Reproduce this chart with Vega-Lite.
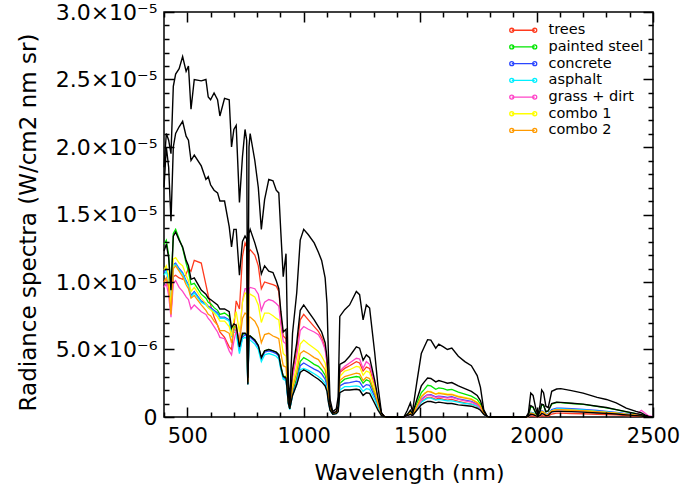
{
 "$schema": "https://vega.github.io/schema/vega-lite/v6.json",
 "width": 489, "height": 405,
 "autosize": {"type": "none"},
 "padding": {"left": 164, "top": 12, "right": 31, "bottom": 72},
 "background": "white",
 "config": {"view": {"stroke": "black", "strokeWidth": 1.5}, "font": "DejaVu Sans"},
 "data": {"values": [
{"w":400,"r1":18.5e-6,"r2":17e-6,"r3":12.3e-6,"trees":10e-6,"painted steel":12.8e-6,"concrete":10.7e-6,"asphalt":10.5e-6,"grass + dirt":9.6e-6,"combo 1":10.9e-6,"combo 2":10e-6},
{"w":410,"r1":21e-6,"r2":20e-6,"r3":12.8e-6,"trees":10.3e-6,"painted steel":13.1e-6,"concrete":11e-6,"asphalt":10.8e-6,"grass + dirt":9.9e-6,"combo 1":11.2e-6,"combo 2":10.3e-6},
{"w":420,"r1":20.5e-6,"r2":18.5e-6,"r3":11.8e-6,"trees":9.6e-6,"painted steel":12e-6,"concrete":10.3e-6,"asphalt":10.1e-6,"grass + dirt":9e-6,"combo 1":10.5e-6,"combo 2":9.6e-6},
{"w":430,"r1":19.5e-6,"r2":14.5e-6,"r3":9.4e-6,"trees":7.8e-6,"painted steel":9.4e-6,"concrete":8.2e-6,"asphalt":8.1e-6,"grass + dirt":7.4e-6,"combo 1":8e-6,"combo 2":7.6e-6},
{"w":440,"r1":24.5e-6,"r2":20e-6,"r3":13.4e-6,"trees":10.4e-6,"painted steel":13.6e-6,"concrete":11.3e-6,"asphalt":11.2e-6,"grass + dirt":9.9e-6,"combo 1":11.7e-6,"combo 2":11e-6},
{"w":450,"r1":25.4e-6,"r2":21e-6,"r3":13.7e-6,"trees":10.5e-6,"painted steel":13.9e-6,"concrete":11.4e-6,"asphalt":11.3e-6,"grass + dirt":10.1e-6,"combo 1":11.8e-6,"combo 2":11.2e-6},
{"w":465,"r1":25.8e-6,"r2":21.5e-6,"r3":13.1e-6,"trees":10.3e-6,"painted steel":13.2e-6,"concrete":11e-6,"asphalt":10.9e-6,"grass + dirt":9.6e-6,"combo 1":11.4e-6,"combo 2":10.8e-6},
{"w":480,"r1":26.7e-6,"r2":21.9e-6,"r3":12.6e-6,"trees":10.2e-6,"painted steel":12.5e-6,"concrete":10.7e-6,"asphalt":10.6e-6,"grass + dirt":9.3e-6,"combo 1":11.2e-6,"combo 2":10.4e-6},
{"w":495,"r1":25.6e-6,"r2":20.8e-6,"r3":11.6e-6,"trees":10.6e-6,"painted steel":11.4e-6,"concrete":10.1e-6,"asphalt":10e-6,"grass + dirt":8.9e-6,"combo 1":10.5e-6,"combo 2":9.8e-6},
{"w":505,"r1":26e-6,"r2":20.5e-6,"r3":11.2e-6,"trees":11e-6,"painted steel":10.8e-6,"concrete":9.8e-6,"asphalt":9.7e-6,"grass + dirt":8.7e-6,"combo 1":10.1e-6,"combo 2":9.5e-6},
{"w":516,"r1":22.8e-6,"r2":19e-6,"r3":10.2e-6,"trees":10.8e-6,"painted steel":9.8e-6,"concrete":9e-6,"asphalt":8.9e-6,"grass + dirt":8e-6,"combo 1":9.3e-6,"combo 2":8.8e-6},
{"w":530,"r1":25e-6,"r2":19.4e-6,"r3":10.3e-6,"trees":11.6e-6,"painted steel":9.9e-6,"concrete":9.3e-6,"asphalt":9.2e-6,"grass + dirt":8.3e-6,"combo 1":9.6e-6,"combo 2":9e-6},
{"w":560,"r1":24.9e-6,"r2":18.6e-6,"r3":9.4e-6,"trees":11.4e-6,"painted steel":9.1e-6,"concrete":8.6e-6,"asphalt":8.5e-6,"grass + dirt":7.8e-6,"combo 1":8.8e-6,"combo 2":8.3e-6},
{"w":580,"r1":25e-6,"r2":17.6e-6,"r3":9.1e-6,"trees":9.8e-6,"painted steel":8.8e-6,"concrete":8.4e-6,"asphalt":8.3e-6,"grass + dirt":7.6e-6,"combo 1":8.4e-6,"combo 2":7.9e-6},
{"w":590,"r1":23.7e-6,"r2":17.8e-6,"r3":8.8e-6,"trees":9e-6,"painted steel":8.5e-6,"concrete":8.2e-6,"asphalt":8.1e-6,"grass + dirt":7.3e-6,"combo 1":8.1e-6,"combo 2":7.6e-6},
{"w":600,"r1":23.5e-6,"r2":17.2e-6,"r3":8.7e-6,"trees":8.3e-6,"painted steel":8.4e-6,"concrete":8.1e-6,"asphalt":8e-6,"grass + dirt":7.1e-6,"combo 1":7.95e-6,"combo 2":7.5e-6},
{"w":615,"r1":24e-6,"r2":16.8e-6,"r3":8.5e-6,"trees":7.4e-6,"painted steel":8.1e-6,"concrete":7.9e-6,"asphalt":7.8e-6,"grass + dirt":6.7e-6,"combo 1":7.7e-6,"combo 2":7.1e-6},
{"w":630,"r1":23.5e-6,"r2":16.6e-6,"r3":8.3e-6,"trees":6.8e-6,"painted steel":7.9e-6,"concrete":7.7e-6,"asphalt":7.6e-6,"grass + dirt":6.3e-6,"combo 1":7.4e-6,"combo 2":6.8e-6},
{"w":640,"r1":22.3e-6,"r2":16e-6,"r3":8e-6,"trees":6.3e-6,"painted steel":7.6e-6,"concrete":7.4e-6,"asphalt":7.3e-6,"grass + dirt":5.9e-6,"combo 1":7.1e-6,"combo 2":6.4e-6},
{"w":660,"r1":23.6e-6,"r2":16e-6,"r3":8e-6,"trees":5.9e-6,"painted steel":7.7e-6,"concrete":7.4e-6,"asphalt":7.3e-6,"grass + dirt":5.8e-6,"combo 1":7.1e-6,"combo 2":6.4e-6},
{"w":680,"r1":23.5e-6,"r2":14.1e-6,"r3":7.8e-6,"trees":5.2e-6,"painted steel":7.45e-6,"concrete":7.2e-6,"asphalt":7.1e-6,"grass + dirt":4.9e-6,"combo 1":6.7e-6,"combo 2":6.2e-6},
{"w":690,"r1":20e-6,"r2":12.6e-6,"r3":6.6e-6,"trees":5e-6,"painted steel":6.4e-6,"concrete":6.2e-6,"asphalt":6e-6,"grass + dirt":4.6e-6,"combo 1":6e-6,"combo 2":5.5e-6},
{"w":700,"r1":21.3e-6,"r2":13.9e-6,"r3":6.9e-6,"trees":6.6e-6,"painted steel":6.7e-6,"concrete":6.5e-6,"asphalt":6.3e-6,"grass + dirt":5.6e-6,"combo 1":7.2e-6,"combo 2":6.4e-6},
{"w":710,"r1":21.6e-6,"r2":13.9e-6,"r3":6.8e-6,"trees":8.6e-6,"painted steel":6.6e-6,"concrete":6.4e-6,"asphalt":6.2e-6,"grass + dirt":6.4e-6,"combo 1":7.8e-6,"combo 2":6.8e-6},
{"w":724,"r1":15.9e-6,"r2":10.5e-6,"r3":5.2e-6,"trees":8e-6,"painted steel":5.1e-6,"concrete":4.9e-6,"asphalt":4.7e-6,"grass + dirt":5.6e-6,"combo 1":6.3e-6,"combo 2":5.5e-6},
{"w":737,"r1":19.3e-6,"r2":13e-6,"r3":6.2e-6,"trees":11.9e-6,"painted steel":6.1e-6,"concrete":5.9e-6,"asphalt":5.8e-6,"grass + dirt":8.6e-6,"combo 1":8.5e-6,"combo 2":7.3e-6},
{"w":748,"r1":21.3e-6,"r2":13.4e-6,"r3":6.2e-6,"trees":12.9e-6,"painted steel":6.2e-6,"concrete":6.1e-6,"asphalt":5.9e-6,"grass + dirt":9.5e-6,"combo 1":9.2e-6,"combo 2":7.7e-6},
{"w":755,"r1":20.5e-6,"r2":13.2e-6,"r3":6.1e-6,"trees":12.6e-6,"painted steel":6.1e-6,"concrete":6e-6,"asphalt":5.8e-6,"grass + dirt":9.5e-6,"combo 1":9.1e-6,"combo 2":7.6e-6},
{"w":760,"r1":3.5e-6,"r2":2.9e-6,"r3":2.4e-6,"trees":2.8e-6,"painted steel":2.5e-6,"concrete":2.45e-6,"asphalt":2.4e-6,"grass + dirt":2.6e-6,"combo 1":2.6e-6,"combo 2":2.55e-6},
{"w":765,"r1":20e-6,"r2":13.6e-6,"r3":6e-6,"trees":12.2e-6,"painted steel":6e-6,"concrete":5.9e-6,"asphalt":5.7e-6,"grass + dirt":9.5e-6,"combo 1":9e-6,"combo 2":7.4e-6},
{"w":770,"r1":21e-6,"r2":13.9e-6,"r3":6e-6,"trees":12.4e-6,"painted steel":6e-6,"concrete":5.9e-6,"asphalt":5.7e-6,"grass + dirt":9.6e-6,"combo 1":9.1e-6,"combo 2":7.4e-6},
{"w":790,"r1":19e-6,"r2":12.9e-6,"r3":5.7e-6,"trees":12e-6,"painted steel":5.7e-6,"concrete":5.6e-6,"asphalt":5.4e-6,"grass + dirt":9.5e-6,"combo 1":8.9e-6,"combo 2":7.1e-6},
{"w":805,"r1":17e-6,"r2":12e-6,"r3":5.3e-6,"trees":11.2e-6,"painted steel":5.3e-6,"concrete":5.2e-6,"asphalt":5e-6,"grass + dirt":9.1e-6,"combo 1":8.3e-6,"combo 2":6.6e-6},
{"w":818,"r1":13.9e-6,"r2":10.6e-6,"r3":4.4e-6,"trees":9.5e-6,"painted steel":4.4e-6,"concrete":4.3e-6,"asphalt":4.1e-6,"grass + dirt":7.9e-6,"combo 1":7e-6,"combo 2":5.5e-6},
{"w":832,"r1":16.1e-6,"r2":11.2e-6,"r3":4.9e-6,"trees":10e-6,"painted steel":4.9e-6,"concrete":4.8e-6,"asphalt":4.6e-6,"grass + dirt":8.5e-6,"combo 1":7.7e-6,"combo 2":6.1e-6},
{"w":850,"r1":17.6e-6,"r2":10.8e-6,"r3":5e-6,"trees":9.9e-6,"painted steel":5e-6,"concrete":4.9e-6,"asphalt":4.7e-6,"grass + dirt":8.7e-6,"combo 1":7.7e-6,"combo 2":6.2e-6},
{"w":868,"r1":17.5e-6,"r2":10.7e-6,"r3":4.9e-6,"trees":9.8e-6,"painted steel":4.9e-6,"concrete":4.8e-6,"asphalt":4.6e-6,"grass + dirt":8.6e-6,"combo 1":7.5e-6,"combo 2":6e-6},
{"w":882,"r1":16.8e-6,"r2":10.1e-6,"r3":4.8e-6,"trees":9.7e-6,"painted steel":4.8e-6,"concrete":4.7e-6,"asphalt":4.5e-6,"grass + dirt":8.4e-6,"combo 1":7.3e-6,"combo 2":5.9e-6},
{"w":893,"r1":16.6e-6,"r2":9.5e-6,"r3":4.6e-6,"trees":9.3e-6,"painted steel":4.6e-6,"concrete":4.5e-6,"asphalt":4.3e-6,"grass + dirt":8.2e-6,"combo 1":7.2e-6,"combo 2":5.8e-6},
{"w":902,"r1":13.6e-6,"r2":7.8e-6,"r3":3.7e-6,"trees":7.5e-6,"painted steel":3.8e-6,"concrete":3.6e-6,"asphalt":3.5e-6,"grass + dirt":6.8e-6,"combo 1":5.9e-6,"combo 2":4.7e-6},
{"w":912,"r1":10.4e-6,"r2":6.3e-6,"r3":3e-6,"trees":6e-6,"painted steel":3e-6,"concrete":2.9e-6,"asphalt":2.8e-6,"grass + dirt":5.6e-6,"combo 1":4.7e-6,"combo 2":3.8e-6},
{"w":924,"r1":12.1e-6,"r2":6.5e-6,"r3":2.9e-6,"trees":5.8e-6,"painted steel":3e-6,"concrete":2.8e-6,"asphalt":2.7e-6,"grass + dirt":5.4e-6,"combo 1":4.5e-6,"combo 2":3.7e-6},
{"w":934,"r1":2.5e-6,"r2":1.7e-6,"r3":1e-6,"trees":1.6e-6,"painted steel":1.1e-6,"concrete":1e-6,"asphalt":0.95e-6,"grass + dirt":1.5e-6,"combo 1":1.3e-6,"combo 2":1.1e-6},
{"w":940,"r1":1.3e-6,"r2":0.8e-6,"r3":0.6e-6,"trees":0.9e-6,"painted steel":0.6e-6,"concrete":0.6e-6,"asphalt":0.55e-6,"grass + dirt":0.8e-6,"combo 1":0.7e-6,"combo 2":0.65e-6},
{"w":952,"r1":6.2e-6,"r2":3.5e-6,"r3":1.6e-6,"trees":3.2e-6,"painted steel":1.8e-6,"concrete":1.7e-6,"asphalt":1.6e-6,"grass + dirt":2.9e-6,"combo 1":2.4e-6,"combo 2":2.1e-6},
{"w":970,"r1":9.2e-6,"r2":5.5e-6,"r3":2.4e-6,"trees":5e-6,"painted steel":2.9e-6,"concrete":2.6e-6,"asphalt":2.4e-6,"grass + dirt":4.5e-6,"combo 1":3.8e-6,"combo 2":3.3e-6},
{"w":985,"r1":13.1e-6,"r2":7.9e-6,"r3":3.3e-6,"trees":7.2e-6,"painted steel":4.1e-6,"concrete":3.8e-6,"asphalt":3.5e-6,"grass + dirt":6.4e-6,"combo 1":5.4e-6,"combo 2":4.7e-6},
{"w":1000,"r1":13.9e-6,"r2":8.3e-6,"r3":3.5e-6,"trees":7.6e-6,"painted steel":4.4e-6,"concrete":4e-6,"asphalt":3.6e-6,"grass + dirt":6.7e-6,"combo 1":5.7e-6,"combo 2":4.9e-6},
{"w":1020,"r1":13.5e-6,"r2":7.8e-6,"r3":3.3e-6,"trees":7.2e-6,"painted steel":4.2e-6,"concrete":3.8e-6,"asphalt":3.45e-6,"grass + dirt":6.5e-6,"combo 1":5.4e-6,"combo 2":4.7e-6},
{"w":1045,"r1":12.9e-6,"r2":7.2e-6,"r3":3e-6,"trees":6.7e-6,"painted steel":3.9e-6,"concrete":3.55e-6,"asphalt":3.2e-6,"grass + dirt":6.3e-6,"combo 1":5.1e-6,"combo 2":4.4e-6},
{"w":1063,"r1":12.2e-6,"r2":6.7e-6,"r3":2.8e-6,"trees":6.35e-6,"painted steel":3.75e-6,"concrete":3.4e-6,"asphalt":3e-6,"grass + dirt":6.1e-6,"combo 1":4.85e-6,"combo 2":4.25e-6},
{"w":1077,"r1":11.6e-6,"r2":6.3e-6,"r3":2.6e-6,"trees":5.9e-6,"painted steel":3.5e-6,"concrete":3.2e-6,"asphalt":2.8e-6,"grass + dirt":5.7e-6,"combo 1":4.5e-6,"combo 2":3.9e-6},
{"w":1092,"r1":10.3e-6,"r2":5.5e-6,"r3":2.3e-6,"trees":5.1e-6,"painted steel":3.1e-6,"concrete":2.8e-6,"asphalt":2.5e-6,"grass + dirt":5e-6,"combo 1":4e-6,"combo 2":3.5e-6},
{"w":1100,"r1":8.4e-6,"r2":4.4e-6,"r3":1.9e-6,"trees":4.1e-6,"painted steel":2.5e-6,"concrete":2.3e-6,"asphalt":2e-6,"grass + dirt":4e-6,"combo 1":3.2e-6,"combo 2":2.8e-6},
{"w":1106,"r1":4.7e-6,"r2":2.6e-6,"r3":1.1e-6,"trees":2.4e-6,"painted steel":1.5e-6,"concrete":1.3e-6,"asphalt":1.2e-6,"grass + dirt":2.3e-6,"combo 1":1.9e-6,"combo 2":1.7e-6},
{"w":1113,"r1":1.3e-6,"r2":0.9e-6,"r3":0.5e-6,"trees":0.8e-6,"painted steel":0.6e-6,"concrete":0.55e-6,"asphalt":0.5e-6,"grass + dirt":0.8e-6,"combo 1":0.7e-6,"combo 2":0.65e-6},
{"w":1125,"r1":0.4e-6,"r2":0.3e-6,"r3":0.2e-6,"trees":0.3e-6,"painted steel":0.25e-6,"concrete":0.2e-6,"asphalt":0.2e-6,"grass + dirt":0.3e-6,"combo 1":0.3e-6,"combo 2":0.25e-6},
{"w":1140,"r1":0.6e-6,"r2":0.4e-6,"r3":0.25e-6,"trees":0.35e-6,"painted steel":0.3e-6,"concrete":0.3e-6,"asphalt":0.25e-6,"grass + dirt":0.4e-6,"combo 1":0.35e-6,"combo 2":0.3e-6},
{"w":1148,"r1":1.5e-6,"r2":0.8e-6,"r3":0.4e-6,"trees":0.7e-6,"painted steel":0.6e-6,"concrete":0.5e-6,"asphalt":0.45e-6,"grass + dirt":0.8e-6,"combo 1":0.7e-6,"combo 2":0.6e-6},
{"w":1155,"r1":7.45e-6,"r2":3.9e-6,"r3":1.8e-6,"trees":3.3e-6,"painted steel":2.5e-6,"concrete":2.3e-6,"asphalt":2e-6,"grass + dirt":3.4e-6,"combo 1":3e-6,"combo 2":2.7e-6},
{"w":1176,"r1":7.95e-6,"r2":4.1e-6,"r3":2e-6,"trees":3.6e-6,"painted steel":2.8e-6,"concrete":2.5e-6,"asphalt":2.25e-6,"grass + dirt":3.75e-6,"combo 1":3.4e-6,"combo 2":3e-6},
{"w":1197,"r1":8.3e-6,"r2":4.5e-6,"r3":2e-6,"trees":3.8e-6,"painted steel":2.9e-6,"concrete":2.55e-6,"asphalt":2.25e-6,"grass + dirt":4e-6,"combo 1":3.5e-6,"combo 2":3.1e-6},
{"w":1226,"r1":9.3e-6,"r2":5.2e-6,"r3":2.05e-6,"trees":4.1e-6,"painted steel":3e-6,"concrete":2.65e-6,"asphalt":2.3e-6,"grass + dirt":4.35e-6,"combo 1":3.75e-6,"combo 2":3.25e-6},
{"w":1240,"r1":9.06e-6,"r2":5.1e-6,"r3":2e-6,"trees":4e-6,"painted steel":2.95e-6,"concrete":2.6e-6,"asphalt":2.25e-6,"grass + dirt":4.3e-6,"combo 1":3.7e-6,"combo 2":3.2e-6},
{"w":1255,"r1":7.2e-6,"r2":4.2e-6,"r3":1.6e-6,"trees":3.4e-6,"painted steel":2.5e-6,"concrete":2.2e-6,"asphalt":1.9e-6,"grass + dirt":3.6e-6,"combo 1":3.1e-6,"combo 2":2.7e-6},
{"w":1269,"r1":8.3e-6,"r2":4.6e-6,"r3":1.8e-6,"trees":3.7e-6,"painted steel":2.75e-6,"concrete":2.4e-6,"asphalt":2.1e-6,"grass + dirt":4.1e-6,"combo 1":3.4e-6,"combo 2":2.95e-6},
{"w":1283,"r1":8.07e-6,"r2":4.4e-6,"r3":1.75e-6,"trees":3.6e-6,"painted steel":2.65e-6,"concrete":2.35e-6,"asphalt":2.05e-6,"grass + dirt":3.9e-6,"combo 1":3.3e-6,"combo 2":2.85e-6},
{"w":1305,"r1":4.74e-6,"r2":2.7e-6,"r3":1e-6,"trees":2.3e-6,"painted steel":1.7e-6,"concrete":1.5e-6,"asphalt":1.3e-6,"grass + dirt":2.5e-6,"combo 1":2.1e-6,"combo 2":1.8e-6},
{"w":1319,"r1":2.27e-6,"r2":1.4e-6,"r3":0.5e-6,"trees":1.2e-6,"painted steel":0.9e-6,"concrete":0.8e-6,"asphalt":0.7e-6,"grass + dirt":1.3e-6,"combo 1":1.1e-6,"combo 2":0.95e-6},
{"w":1334,"r1":0.3e-6,"r2":0.3e-6,"r3":0.1e-6,"trees":0.25e-6,"painted steel":0.2e-6,"concrete":0.2e-6,"asphalt":0.15e-6,"grass + dirt":0.3e-6,"combo 1":0.25e-6,"combo 2":0.2e-6},
{"w":1346,"r1":0.05e-6,"r2":0.05e-6,"r3":0.02e-6,"trees":0.03e-6,"painted steel":0.03e-6,"concrete":0.03e-6,"asphalt":0.02e-6,"grass + dirt":0.04e-6,"combo 1":0.03e-6,"combo 2":0.03e-6},
{"w":1356,"r1":0,"r2":0,"r3":0,"trees":0,"painted steel":0,"concrete":0,"asphalt":0,"grass + dirt":0,"combo 1":0,"combo 2":0},
{"w":1430,"r1":0,"r2":0,"r3":0,"trees":0,"painted steel":0,"concrete":0,"asphalt":0,"grass + dirt":0,"combo 1":0,"combo 2":0},
{"w":1445,"r1":0.5e-6,"r2":0.2e-6,"r3":0.1e-6,"trees":0.1e-6,"painted steel":0.2e-6,"concrete":0.1e-6,"asphalt":0.1e-6,"grass + dirt":0.1e-6,"combo 1":0.15e-6,"combo 2":0.15e-6},
{"w":1458,"r1":1.05e-6,"r2":0.5e-6,"r3":0.2e-6,"trees":0.25e-6,"painted steel":0.4e-6,"concrete":0.3e-6,"asphalt":0.25e-6,"grass + dirt":0.25e-6,"combo 1":0.3e-6,"combo 2":0.3e-6},
{"w":1467,"r1":0.4e-6,"r2":0.25e-6,"r3":0.1e-6,"trees":0.1e-6,"painted steel":0.2e-6,"concrete":0.15e-6,"asphalt":0.1e-6,"grass + dirt":0.1e-6,"combo 1":0.15e-6,"combo 2":0.15e-6},
{"w":1486,"r1":2.6e-6,"r2":1.3e-6,"r3":0.5e-6,"trees":0.6e-6,"painted steel":1e-6,"concrete":0.7e-6,"asphalt":0.6e-6,"grass + dirt":0.7e-6,"combo 1":0.8e-6,"combo 2":0.8e-6},
{"w":1505,"r1":4.7e-6,"r2":2.3e-6,"r3":0.9e-6,"trees":1.15e-6,"painted steel":1.8e-6,"concrete":1.3e-6,"asphalt":1.1e-6,"grass + dirt":1.25e-6,"combo 1":1.5e-6,"combo 2":1.5e-6},
{"w":1518,"r1":5.2e-6,"r2":2.6e-6,"r3":1.05e-6,"trees":1.3e-6,"painted steel":2.05e-6,"concrete":1.5e-6,"asphalt":1.25e-6,"grass + dirt":1.45e-6,"combo 1":1.75e-6,"combo 2":1.7e-6},
{"w":1532,"r1":5.73e-6,"r2":2.89e-6,"r3":1.16e-6,"trees":1.45e-6,"painted steel":2.35e-6,"concrete":1.65e-6,"asphalt":1.4e-6,"grass + dirt":1.65e-6,"combo 1":1.9e-6,"combo 2":1.9e-6},
{"w":1546,"r1":5.7e-6,"r2":2.85e-6,"r3":1.15e-6,"trees":1.45e-6,"painted steel":2.3e-6,"concrete":1.65e-6,"asphalt":1.4e-6,"grass + dirt":1.6e-6,"combo 1":1.9e-6,"combo 2":1.85e-6},
{"w":1567,"r1":5.1e-6,"r2":2.6e-6,"r3":1.05e-6,"trees":1.3e-6,"painted steel":2.05e-6,"concrete":1.5e-6,"asphalt":1.25e-6,"grass + dirt":1.45e-6,"combo 1":1.7e-6,"combo 2":1.7e-6},
{"w":1580,"r1":5.4e-6,"r2":2.7e-6,"r3":1.1e-6,"trees":1.4e-6,"painted steel":2.15e-6,"concrete":1.55e-6,"asphalt":1.3e-6,"grass + dirt":1.5e-6,"combo 1":1.8e-6,"combo 2":1.75e-6},
{"w":1600,"r1":5.2e-6,"r2":2.6e-6,"r3":1.05e-6,"trees":1.3e-6,"painted steel":2.1e-6,"concrete":1.5e-6,"asphalt":1.25e-6,"grass + dirt":1.45e-6,"combo 1":1.75e-6,"combo 2":1.7e-6},
{"w":1617,"r1":5e-6,"r2":2.5e-6,"r3":1e-6,"trees":1.25e-6,"painted steel":2e-6,"concrete":1.45e-6,"asphalt":1.2e-6,"grass + dirt":1.4e-6,"combo 1":1.7e-6,"combo 2":1.65e-6},
{"w":1636,"r1":5.1e-6,"r2":2.55e-6,"r3":1e-6,"trees":1.3e-6,"painted steel":2.05e-6,"concrete":1.5e-6,"asphalt":1.2e-6,"grass + dirt":1.45e-6,"combo 1":1.7e-6,"combo 2":1.65e-6},
{"w":1664,"r1":4.5e-6,"r2":2.3e-6,"r3":0.9e-6,"trees":1.15e-6,"painted steel":1.85e-6,"concrete":1.35e-6,"asphalt":1.1e-6,"grass + dirt":1.3e-6,"combo 1":1.55e-6,"combo 2":1.5e-6},
{"w":1692,"r1":4.1e-6,"r2":2.1e-6,"r3":0.85e-6,"trees":1.05e-6,"painted steel":1.7e-6,"concrete":1.25e-6,"asphalt":1e-6,"grass + dirt":1.2e-6,"combo 1":1.45e-6,"combo 2":1.4e-6},
{"w":1720,"r1":3.8e-6,"r2":1.9e-6,"r3":0.8e-6,"trees":0.95e-6,"painted steel":1.55e-6,"concrete":1.15e-6,"asphalt":0.95e-6,"grass + dirt":1.1e-6,"combo 1":1.35e-6,"combo 2":1.3e-6},
{"w":1745,"r1":3.07e-6,"r2":1.6e-6,"r3":0.65e-6,"trees":0.8e-6,"painted steel":1.3e-6,"concrete":0.95e-6,"asphalt":0.8e-6,"grass + dirt":0.9e-6,"combo 1":1.1e-6,"combo 2":1.05e-6},
{"w":1759,"r1":2.2e-6,"r2":1.2e-6,"r3":0.5e-6,"trees":0.6e-6,"painted steel":0.95e-6,"concrete":0.7e-6,"asphalt":0.6e-6,"grass + dirt":0.65e-6,"combo 1":0.8e-6,"combo 2":0.8e-6},
{"w":1773,"r1":0.55e-6,"r2":0.45e-6,"r3":0.2e-6,"trees":0.2e-6,"painted steel":0.35e-6,"concrete":0.25e-6,"asphalt":0.2e-6,"grass + dirt":0.25e-6,"combo 1":0.3e-6,"combo 2":0.3e-6},
{"w":1788,"r1":0.05e-6,"r2":0.05e-6,"r3":0.02e-6,"trees":0.02e-6,"painted steel":0.03e-6,"concrete":0.03e-6,"asphalt":0.02e-6,"grass + dirt":0.03e-6,"combo 1":0.03e-6,"combo 2":0.03e-6},
{"w":1800,"r1":0,"r2":0,"r3":0,"trees":0,"painted steel":0,"concrete":0,"asphalt":0,"grass + dirt":0,"combo 1":0,"combo 2":0},
{"w":1955,"r1":0,"r2":0,"r3":0,"trees":0,"painted steel":0,"concrete":0,"asphalt":0,"grass + dirt":0,"combo 1":0,"combo 2":0},
{"w":1965,"r1":0.3e-6,"r2":0.15e-6,"r3":0.05e-6,"trees":0.02e-6,"painted steel":0.1e-6,"concrete":0.05e-6,"asphalt":0.05e-6,"grass + dirt":0.03e-6,"combo 1":0.04e-6,"combo 2":0.04e-6},
{"w":1975,"r1":1.77e-6,"r2":0.85e-6,"r3":0.2e-6,"trees":0.08e-6,"painted steel":0.75e-6,"concrete":0.35e-6,"asphalt":0.3e-6,"grass + dirt":0.2e-6,"combo 1":0.28e-6,"combo 2":0.28e-6},
{"w":1985,"r1":1.6e-6,"r2":0.75e-6,"r3":0.18e-6,"trees":0.07e-6,"painted steel":0.7e-6,"concrete":0.3e-6,"asphalt":0.28e-6,"grass + dirt":0.18e-6,"combo 1":0.25e-6,"combo 2":0.25e-6},
{"w":1997,"r1":0.6e-6,"r2":0.3e-6,"r3":0.08e-6,"trees":0.03e-6,"painted steel":0.25e-6,"concrete":0.12e-6,"asphalt":0.1e-6,"grass + dirt":0.07e-6,"combo 1":0.1e-6,"combo 2":0.1e-6},
{"w":2006,"r1":0.17e-6,"r2":0.1e-6,"r3":0.03e-6,"trees":0.01e-6,"painted steel":0.08e-6,"concrete":0.04e-6,"asphalt":0.03e-6,"grass + dirt":0.02e-6,"combo 1":0.03e-6,"combo 2":0.03e-6},
{"w":2015,"r1":0.9e-6,"r2":0.45e-6,"r3":0.12e-6,"trees":0.04e-6,"painted steel":0.4e-6,"concrete":0.2e-6,"asphalt":0.17e-6,"grass + dirt":0.1e-6,"combo 1":0.15e-6,"combo 2":0.15e-6},
{"w":2022,"r1":2e-6,"r2":0.95e-6,"r3":0.25e-6,"trees":0.1e-6,"painted steel":0.9e-6,"concrete":0.45e-6,"asphalt":0.38e-6,"grass + dirt":0.28e-6,"combo 1":0.4e-6,"combo 2":0.4e-6},
{"w":2030,"r1":1.8e-6,"r2":0.9e-6,"r3":0.22e-6,"trees":0.09e-6,"painted steel":0.85e-6,"concrete":0.4e-6,"asphalt":0.35e-6,"grass + dirt":0.25e-6,"combo 1":0.35e-6,"combo 2":0.35e-6},
{"w":2040,"r1":0.8e-6,"r2":0.4e-6,"r3":0.1e-6,"trees":0.04e-6,"painted steel":0.38e-6,"concrete":0.2e-6,"asphalt":0.16e-6,"grass + dirt":0.12e-6,"combo 1":0.17e-6,"combo 2":0.17e-6},
{"w":2050,"r1":0.7e-6,"r2":0.45e-6,"r3":0.12e-6,"trees":0.06e-6,"painted steel":0.45e-6,"concrete":0.25e-6,"asphalt":0.2e-6,"grass + dirt":0.15e-6,"combo 1":0.2e-6,"combo 2":0.2e-6},
{"w":2065,"r1":1.9e-6,"r2":1e-6,"r3":0.38e-6,"trees":0.22e-6,"painted steel":0.95e-6,"concrete":0.55e-6,"asphalt":0.48e-6,"grass + dirt":0.38e-6,"combo 1":0.45e-6,"combo 2":0.45e-6},
{"w":2086,"r1":2.07e-6,"r2":1.09e-6,"r3":0.42e-6,"trees":0.29e-6,"painted steel":1.09e-6,"concrete":0.66e-6,"asphalt":0.6e-6,"grass + dirt":0.45e-6,"combo 1":0.54e-6,"combo 2":0.54e-6},
{"w":2104,"r1":2.1e-6,"r2":1.08e-6,"r3":0.42e-6,"trees":0.28e-6,"painted steel":1.07e-6,"concrete":0.66e-6,"asphalt":0.6e-6,"grass + dirt":0.45e-6,"combo 1":0.54e-6,"combo 2":0.54e-6},
{"w":2150,"r1":1.95e-6,"r2":1.02e-6,"r3":0.4e-6,"trees":0.26e-6,"painted steel":1e-6,"concrete":0.62e-6,"asphalt":0.56e-6,"grass + dirt":0.42e-6,"combo 1":0.5e-6,"combo 2":0.5e-6},
{"w":2200,"r1":1.77e-6,"r2":0.95e-6,"r3":0.36e-6,"trees":0.24e-6,"painted steel":0.93e-6,"concrete":0.57e-6,"asphalt":0.52e-6,"grass + dirt":0.4e-6,"combo 1":0.46e-6,"combo 2":0.47e-6},
{"w":2260,"r1":1.45e-6,"r2":0.8e-6,"r3":0.3e-6,"trees":0.2e-6,"painted steel":0.78e-6,"concrete":0.48e-6,"asphalt":0.43e-6,"grass + dirt":0.34e-6,"combo 1":0.39e-6,"combo 2":0.4e-6},
{"w":2300,"r1":1.3e-6,"r2":0.7e-6,"r3":0.27e-6,"trees":0.18e-6,"painted steel":0.68e-6,"concrete":0.42e-6,"asphalt":0.38e-6,"grass + dirt":0.3e-6,"combo 1":0.34e-6,"combo 2":0.35e-6},
{"w":2342,"r1":1.04e-6,"r2":0.55e-6,"r3":0.22e-6,"trees":0.15e-6,"painted steel":0.55e-6,"concrete":0.34e-6,"asphalt":0.3e-6,"grass + dirt":0.25e-6,"combo 1":0.28e-6,"combo 2":0.28e-6},
{"w":2385,"r1":0.66e-6,"r2":0.4e-6,"r3":0.16e-6,"trees":0.1e-6,"painted steel":0.38e-6,"concrete":0.25e-6,"asphalt":0.22e-6,"grass + dirt":0.2e-6,"combo 1":0.2e-6,"combo 2":0.2e-6},
{"w":2427,"r1":0.42e-6,"r2":0.25e-6,"r3":0.1e-6,"trees":0.06e-6,"painted steel":0.25e-6,"concrete":0.16e-6,"asphalt":0.14e-6,"grass + dirt":0.15e-6,"combo 1":0.13e-6,"combo 2":0.13e-6},
{"w":2450,"r1":0.3e-6,"r2":0.18e-6,"r3":0.07e-6,"trees":0.04e-6,"painted steel":0.18e-6,"concrete":0.12e-6,"asphalt":0.1e-6,"grass + dirt":0.5e-6,"combo 1":0.1e-6,"combo 2":0.1e-6},
{"w":2465,"r1":0.15e-6,"r2":0.1e-6,"r3":0.04e-6,"trees":0.02e-6,"painted steel":0.1e-6,"concrete":0.07e-6,"asphalt":0.06e-6,"grass + dirt":0.3e-6,"combo 1":0.06e-6,"combo 2":0.06e-6},
{"w":2480,"r1":0.05e-6,"r2":0.04e-6,"r3":0.02e-6,"trees":0.01e-6,"painted steel":0.04e-6,"concrete":0.03e-6,"asphalt":0.02e-6,"grass + dirt":0.1e-6,"combo 1":0.02e-6,"combo 2":0.02e-6},
{"w":2500,"r1":0.02e-6,"r2":0.02e-6,"r3":0.01e-6,"trees":0,"painted steel":0.02e-6,"concrete":0.01e-6,"asphalt":0.01e-6,"grass + dirt":0.02e-6,"combo 1":0.01e-6,"combo 2":0.01e-6}
 ]},
 "layer": [
  {
   "transform": [{"fold": ["trees","painted steel","concrete","asphalt","grass + dirt","combo 1","combo 2"], "as": ["series","radiance"]}],
   "mark": {"type": "line", "strokeWidth": 1.3},
   "encoding": {
    "x": {"field": "w", "type": "quantitative", "scale": {"domain": [400, 2500], "nice": false, "zero": false},
     "axis": {"orient": "bottom", "title": "Wavelength (nm)", "grid": false, "domain": false, "offset": -10, "zindex": 1,
      "values": [500,1000,1500,2000,2500], "format": "d",
      "labelOverlap": false, "labelFlush": false, "labelFont": "DejaVu Sans", "labelFontSize": 21, "labelColor": "black", "labelPadding": 8,
      "ticks": true, "tickSize": 10, "tickColor": "#000000", "tickWidth": 1.5, "tickOpacity": 1,
      "titleFont": "DejaVu Sans", "titleFontSize": 22, "titleFontWeight": "normal", "titleColor": "black",
      "titleX": 245, "titleY": 65, "titleAlign": "center", "titleBaseline": "middle"}},
    "y": {"field": "radiance", "type": "quantitative", "scale": {"domain": [0, 3e-5], "nice": false},
     "axis": {"orient": "left", "title": "Radiance spectra (W/cm2 nm sr)", "grid": false, "domain": false, "offset": -10, "zindex": 1,
      "values": [0,5e-6,10e-6,15e-6,20e-6,25e-6,30e-6],
      "labelExpr": "datum.value < 1e-9 ? '0' : (datum.value < 9e-6 ? format(datum.value*1e6, '.1f') + '×10⁻⁶' : format(datum.value*1e5, '.1f') + '×10⁻⁵')",
      "labelOverlap": false, "labelFlush": false, "labelFont": "DejaVu Sans", "labelFontSize": 22, "labelColor": "black", "labelPadding": 7,
      "ticks": true, "tickSize": 10, "tickColor": "#000000", "tickWidth": 1.5, "tickOpacity": 1,
      "titleFont": "DejaVu Sans", "titleFontSize": 23, "titleFontWeight": "normal", "titleColor": "black",
      "titleX": -146, "titleY": 210, "titleAlign": "center", "titleBaseline": "middle", "titleAngle": -90}},
    "color": {"field": "series", "type": "nominal",
     "scale": {"domain": ["trees","painted steel","concrete","asphalt","grass + dirt","combo 1","combo 2"],
               "range": ["#ff3a1e","#00e600","#2a46ff","#00f0ff","#ff45c8","#ffff00","#ff9a00"]},
     "legend": {"orient": "none", "legendX": 352, "legendY": 11, "title": null, "padding": 0,
      "labelFont": "DejaVu Sans", "labelFontSize": 14.5, "labelColor": "black", "labelOffset": 18,
      "symbolType": "M-2.3,0L2.3,0M-2.7,0A0.4,0.4 0 1,0 -1.9,0A0.4,0.4 0 1,0 -2.7,0M1.9,0A0.4,0.4 0 1,0 2.7,0A0.4,0.4 0 1,0 1.9,0",
      "symbolSize": 100, "symbolStrokeWidth": 1.3, "rowPadding": 1.7}}
   }
  },
  {
   "transform": [{"fold": ["r1","r2","r3"], "as": ["ref","radiance"]}],
   "mark": {"type": "line", "color": "black", "strokeWidth": 1.4},
   "encoding": {
    "x": {"field": "w", "type": "quantitative",
     "axis": {"orient": "top", "title": null, "labels": false, "grid": false, "domain": false, "offset": -10, "zindex": 1,
      "values": [500,1000,1500,2000,2500],
      "ticks": true, "tickSize": 10, "tickColor": "#000000", "tickWidth": 1.5, "tickOpacity": 1}},
    "y": {"field": "radiance", "type": "quantitative",
     "axis": {"orient": "right", "title": null, "labels": false, "grid": false, "domain": false, "offset": -10, "zindex": 1,
      "values": [0,5e-6,10e-6,15e-6,20e-6,25e-6,30e-6],
      "ticks": true, "tickSize": 10, "tickColor": "#000000", "tickWidth": 1.5, "tickOpacity": 1}},
    "detail": {"field": "ref", "type": "nominal"}
   }
  },
  {
   "mark": {"type": "line", "opacity": 0},
   "encoding": {
    "x": {"field": "w", "type": "quantitative",
     "axis": {"orient": "bottom", "title": null, "labels": false, "grid": false, "domain": false, "offset": -5, "zindex": 1,
      "values": [400,600,700,800,900,1100,1200,1300,1400,1600,1700,1800,1900,2100,2200,2300,2400],
      "ticks": true, "tickSize": 5, "tickColor": "#000000", "tickWidth": 1.5, "tickOpacity": 1}},
    "y": {"field": "r1", "type": "quantitative",
     "axis": {"orient": "left", "title": null, "labels": false, "grid": false, "domain": false, "offset": -5, "zindex": 1,
      "values": [1e-6,2e-6,3e-6,4e-6,6e-6,7e-6,8e-6,9e-6,11e-6,12e-6,13e-6,14e-6,16e-6,17e-6,18e-6,19e-6,21e-6,22e-6,23e-6,24e-6,26e-6,27e-6,28e-6,29e-6],
      "ticks": true, "tickSize": 5, "tickColor": "#000000", "tickWidth": 1.5, "tickOpacity": 1}}
   }
  },
  {
   "mark": {"type": "line", "opacity": 0},
   "encoding": {
    "x": {"field": "w", "type": "quantitative",
     "axis": {"orient": "top", "title": null, "labels": false, "grid": false, "domain": false, "offset": -5, "zindex": 1,
      "values": [400,600,700,800,900,1100,1200,1300,1400,1600,1700,1800,1900,2100,2200,2300,2400],
      "ticks": true, "tickSize": 5, "tickColor": "#000000", "tickWidth": 1.5, "tickOpacity": 1}},
    "y": {"field": "r1", "type": "quantitative",
     "axis": {"orient": "right", "title": null, "labels": false, "grid": false, "domain": false, "offset": -5, "zindex": 1,
      "values": [1e-6,2e-6,3e-6,4e-6,6e-6,7e-6,8e-6,9e-6,11e-6,12e-6,13e-6,14e-6,16e-6,17e-6,18e-6,19e-6,21e-6,22e-6,23e-6,24e-6,26e-6,27e-6,28e-6,29e-6],
      "ticks": true, "tickSize": 5, "tickColor": "#000000", "tickWidth": 1.5, "tickOpacity": 1}}
   }
  }
 ],
 "resolve": {"axis": {"x": "independent", "y": "independent"}}
}
